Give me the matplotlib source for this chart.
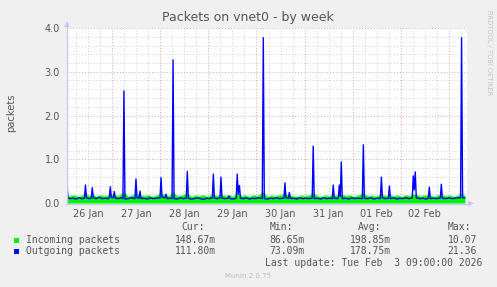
import matplotlib.pyplot as plt
from matplotlib.patches import Polygon, Rectangle

# hours since 26 Jan 00:00, packets/s
outgoing_pts = [
    (1.5, 0.45), (2.0, 0.12), (3.0, 0.10), (4.5, 0.11), (6.0, 0.09), (7.5, 0.12), (9.0, 0.10),
    (10.2, 0.11), (10.7, 0.41), (11.2, 0.12), (12.5, 0.10), (13.6, 0.11), (14.1, 0.35), (14.6, 0.12),
    (16.0, 0.10), (17.5, 0.13), (19.0, 0.10), (20.5, 0.11), (22.0, 0.10), (22.6, 0.12), (23.1, 0.37),
    (23.6, 0.13), (24.6, 0.12), (25.1, 0.26), (25.6, 0.11), (27.0, 0.10), (28.5, 0.12), (29.4, 0.10),
    (29.9, 2.56), (30.4, 0.09), (32.0, 0.10), (33.5, 0.12), (35.4, 0.10), (35.9, 0.55), (36.4, 0.12),
    (37.4, 0.11), (37.9, 0.27), (38.4, 0.10), (40.0, 0.11), (41.5, 0.09), (43.0, 0.12), (44.5, 0.10),
    (46.0, 0.11), (47.9, 0.12), (48.4, 0.58), (48.9, 0.13), (50.4, 0.12), (50.9, 0.20), (51.4, 0.10),
    (53.0, 0.11), (53.9, 0.10), (54.4, 3.27), (54.9, 0.10), (56.5, 0.09), (58.0, 0.12), (59.5, 0.10),
    (61.0, 0.11), (61.5, 0.72), (62.0, 0.11), (63.5, 0.09), (65.0, 0.10), (66.5, 0.12), (68.0, 0.10),
    (69.5, 0.08), (71.0, 0.11), (72.5, 0.10), (74.0, 0.12), (74.5, 0.66), (75.0, 0.11), (76.5, 0.10),
    (77.8, 0.12), (78.3, 0.59), (78.8, 0.11), (80.5, 0.10), (81.8, 0.11), (82.3, 0.16), (82.8, 0.10),
    (84.5, 0.09), (85.9, 0.11), (86.4, 0.66), (86.9, 0.20), (87.5, 0.40), (88.0, 0.11), (89.5, 0.10),
    (91.0, 0.12), (92.5, 0.09), (94.0, 0.11), (95.5, 0.10), (97.0, 0.12), (98.9, 0.10), (99.4, 3.78),
    (99.9, 0.10), (101.5, 0.09), (103.0, 0.11), (104.5, 0.10), (106.0, 0.12), (107.5, 0.10),
    (109.7, 0.11), (110.2, 0.46), (110.7, 0.12), (111.9, 0.11), (112.4, 0.24), (112.9, 0.10),
    (114.5, 0.11), (116.0, 0.09), (117.5, 0.12), (119.0, 0.10), (120.5, 0.11), (122.0, 0.10),
    (123.8, 0.11), (124.3, 1.30), (124.8, 0.10), (126.5, 0.11), (128.0, 0.09), (129.5, 0.12),
    (131.0, 0.10), (132.5, 0.11), (133.8, 0.10), (134.3, 0.41), (134.8, 0.11), (136.3, 0.10),
    (136.8, 0.12), (137.3, 0.41), (137.8, 0.15), (138.3, 0.94), (138.8, 0.10), (140.5, 0.11),
    (142.0, 0.09), (143.5, 0.12), (145.0, 0.10), (146.5, 0.11), (148.8, 0.10), (149.3, 1.33),
    (149.8, 0.11), (151.5, 0.10), (153.0, 0.12), (154.5, 0.09), (156.0, 0.11), (157.8, 0.10),
    (158.3, 0.59), (158.8, 0.12), (160.3, 0.10), (161.8, 0.11), (162.3, 0.39), (162.8, 0.10),
    (164.5, 0.12), (166.0, 0.09), (167.5, 0.11), (169.0, 0.10), (170.5, 0.12), (172.0, 0.10),
    (173.7, 0.12), (174.2, 0.62), (174.7, 0.30), (175.2, 0.71), (175.7, 0.12), (177.5, 0.10),
    (179.0, 0.11), (180.5, 0.09), (181.7, 0.11), (182.2, 0.36), (182.7, 0.10), (184.5, 0.11),
    (186.0, 0.10), (187.7, 0.12), (188.2, 0.43), (188.7, 0.11), (190.5, 0.10), (192.0, 0.12),
    (193.5, 0.10), (195.0, 0.11), (196.5, 0.12), (197.8, 0.12), (198.3, 3.78), (198.8, 0.12),
    (199.9, 0.12),
]

incoming_pts = [
    (1.5, 0.17), (3, 0.16), (5, 0.18), (7, 0.15), (9, 0.17), (10.7, 0.22), (12.5, 0.16), (14.1, 0.20),
    (16, 0.15), (18, 0.18), (20, 0.16), (22, 0.17), (23.1, 0.20), (25.1, 0.18), (27, 0.16), (29.9, 0.25),
    (32, 0.15), (34, 0.17), (35.9, 0.22), (37.9, 0.18), (40, 0.16), (42, 0.18), (44, 0.15), (46, 0.17),
    (48.4, 0.22), (50.9, 0.18), (52.5, 0.16), (54.4, 0.25), (56.5, 0.16), (58.5, 0.17), (61.5, 0.22),
    (63.5, 0.15), (65.5, 0.17), (67.5, 0.16), (69.5, 0.18), (71.5, 0.15), (74.5, 0.20), (76.5, 0.16),
    (78.3, 0.20), (80.5, 0.16), (82.3, 0.18), (84.5, 0.15), (86.4, 0.22), (88.5, 0.16), (90.5, 0.17),
    (92.5, 0.15), (94.5, 0.18), (96.5, 0.16), (99.4, 0.25), (101.5, 0.15), (103.5, 0.17), (105.5, 0.16),
    (107.5, 0.18), (110.2, 0.20), (112.4, 0.18), (114.5, 0.16), (116.5, 0.15), (118.5, 0.17),
    (120.5, 0.16), (122.5, 0.18), (124.3, 0.22), (126.5, 0.16), (128.5, 0.15), (130.5, 0.17),
    (132.5, 0.16), (134.3, 0.18), (136.5, 0.16), (138.3, 0.20), (140.5, 0.16), (142.5, 0.18),
    (144.5, 0.15), (146.5, 0.17), (149.3, 0.22), (151.5, 0.16), (153.5, 0.17), (155.5, 0.15),
    (158.3, 0.20), (160.5, 0.16), (162.3, 0.18), (164.5, 0.16), (166.5, 0.17), (168.5, 0.15),
    (170.5, 0.18), (172.5, 0.16), (174.2, 0.20), (175.2, 0.20), (177.5, 0.16), (179.5, 0.17),
    (182.2, 0.18), (184.5, 0.15), (186.5, 0.17), (188.2, 0.18), (190.5, 0.16), (192.5, 0.17),
    (194.5, 0.15), (196.5, 0.17), (198.3, 0.22), (200.0, 0.16),
]

day_labels = ["26 Jan", "27 Jan", "28 Jan", "29 Jan", "30 Jan", "31 Jan", "01 Feb", "02 Feb"]
series_names = ["Incoming packets", "Outgoing packets"]
series_colors = ["#00f400", "#0000ff"]
cur_vals = ["148.67m", "111.80m"]
min_vals = ["86.65m", "73.09m"]
avg_vals = ["198.85m", "178.75m"]
max_vals = ["10.07", "21.36"]
last_update = "Last update: Tue Feb  3 09:00:00 2026"

W, H = 497, 287
TXT = "#555555"

fig = plt.figure(figsize=(W / 100, H / 100), dpi=100, facecolor="#f0f0f0")
ax = fig.add_axes([67 / W, 1 - 203 / H, 400 / W, 175 / H])
ax.set_facecolor("white")
ax.set_xlim(1.5, 201.0)
ax.set_ylim(0, 4.0)
for s in ax.spines.values():
    s.set_visible(False)

# grid: minor every 6 h / 0.2, major at midnight / 1.0
for h in range(6, 201, 6):
    if h % 24:
        ax.axvline(h, color="#d0d0d0", lw=0.7, ls=(0, (1, 2)), zorder=0)
for i in range(1, 20):
    if i % 5:
        ax.axhline(i * 0.2, color="#d0d0d0", lw=0.7, ls=(0, (1, 2)), zorder=0)
for h in range(24, 201, 24):
    ax.axvline(h, color="#e8a0a0", lw=0.7, ls=(0, (1, 2)), zorder=0)
for v in range(1, 5):
    ax.axhline(v, color="#e8a0a0", lw=0.7, ls=(0, (1, 2)), zorder=0, clip_on=False)

in_t = [p[0] for p in incoming_pts]
in_v = [p[1] for p in incoming_pts]
out_t = [p[0] for p in outgoing_pts]
out_v = [p[1] for p in outgoing_pts]

ax.fill_between(in_t, 0, in_v, color=series_colors[0], lw=0, zorder=2)
ax.plot(in_t, in_v, color="#80f080", lw=0.6, zorder=2)
ax.plot(out_t, out_v, color=series_colors[1], lw=1.0, zorder=3)

ax.set_yticks([0, 1, 2, 3, 4])
ax.set_yticklabels(["0.0", "1.0", "2.0", "3.0", "4.0"])
ax.set_xticks([12 + 24 * i for i in range(len(day_labels))])
ax.set_xticklabels(day_labels)
ax.tick_params(length=0, labelsize=7, labelcolor=TXT)
ax.tick_params(axis="y", pad=5)
ax.tick_params(axis="x", pad=4)

# overlay in pixel coordinates for axes arrows, legend and captions
ov = fig.add_axes([0, 0, 1, 1])
ov.set_xlim(0, W)
ov.set_ylim(H, 0)
ov.axis("off")
ov.patch.set_alpha(0)

AX = "#c4c8f0"
ov.plot([67, 67], [203.5, 25], color=AX, lw=0.9)
ov.plot([66, 469], [203.5, 203.5], color=AX, lw=0.9)
ov.add_patch(Polygon([(64, 27), (70, 27), (67, 21)], closed=True, color=AX, lw=0))
ov.add_patch(Polygon([(468, 200.5), (468, 206.5), (474, 203.5)], closed=True, color=AX, lw=0))

ov.text(248, 18, "Packets on vnet0 - by week", ha="center", va="center", fontsize=9, color=TXT)
ov.text(11.5, 113, "packets", rotation=90, ha="center", va="center", fontsize=7.2, color=TXT)
ov.text(488.5, 53, "RRDTOOL / TOBI OETIKER", rotation=270, ha="center", va="center",
        fontsize=4.8, color="#c4c4c4")

mono = dict(family="DejaVu Sans Mono", fontsize=7, color=TXT, va="center", ha="left")
ov.text(181, 227.5, "Cur:", **mono)
ov.text(270, 227.5, "Min:", **mono)
ov.text(358, 227.5, "Avg:", **mono)
ov.text(447.7, 227.5, "Max:", **mono)
for i, y in enumerate([240, 251.5]):
    ov.add_patch(Rectangle((14.3, y - 2.5), 5, 5, color=series_colors[i], lw=0))
    ov.text(26.5, y, series_names[i], **mono)
    ov.text(175.3, y, cur_vals[i], **mono)
    ov.text(269, y, min_vals[i], **mono)
    ov.text(350, y, avg_vals[i], **mono)
    ov.text(447.7, y, max_vals[i], **mono)
ov.text(482.5, 263.5, last_update, **{**mono, "ha": "right"})
ov.text(248, 276.5, "Munin 2.0.75", ha="center", va="center", fontsize=5, color="#bdbdbd")

fig.savefig("out.png", dpi=100, facecolor=fig.get_facecolor())
